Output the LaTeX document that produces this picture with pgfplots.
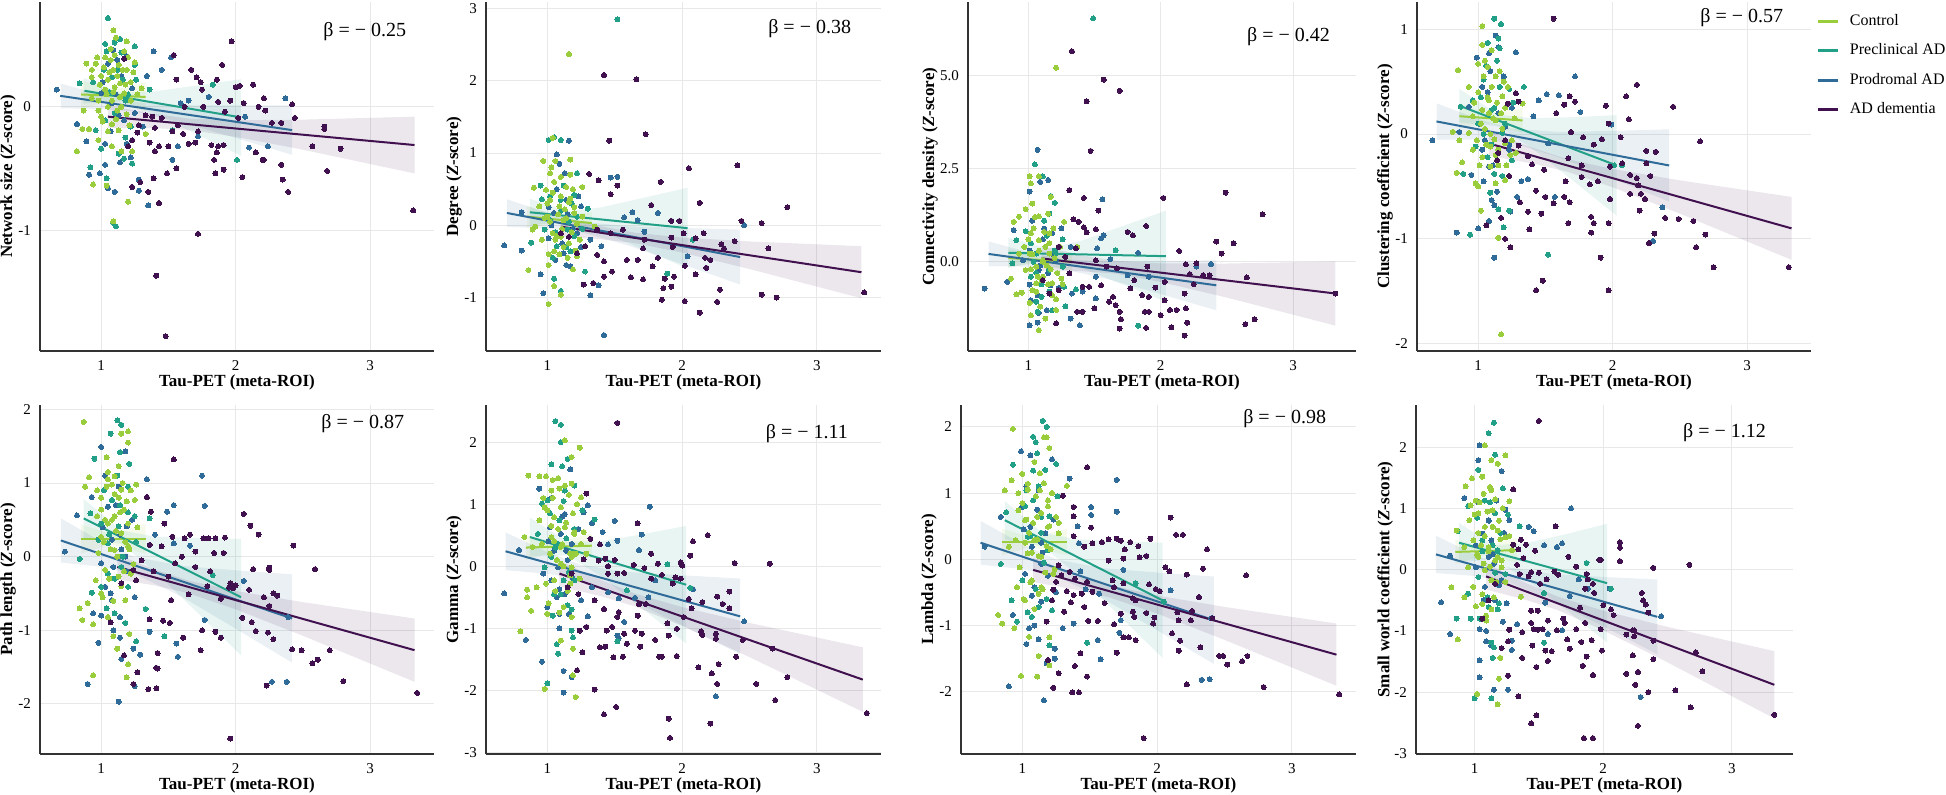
\documentclass[border=0pt]{standalone}
\usepackage{fontspec}
\setmainfont{Liberation Serif}
\usepackage{pgfplots}
\pgfplotsset{compat=1.18}
\definecolor{cCtl}{HTML}{9ACD3B}
\definecolor{cPre}{HTML}{21A087}
\definecolor{cPro}{HTML}{2F6B98}
\definecolor{cAD}{HTML}{40104F}
\pgfplotsset{
  panel/.style={
    scale only axis, height=174.5pt,
    xmin=0.545, xmax=3.475, xtick={1,2,3},
    axis x line*=bottom, axis y line*=left,
    axis line style={-, line width=0.8pt, draw=black!80},
    major tick length=0pt,
    grid=major, major grid style={line width=0.5pt, draw=black!9},
    tick label style={font=\fontsize{7.5}{8}\selectfont},
    xticklabel style={yshift=-1.5pt},
    yticklabel style={xshift=-1pt},
    /pgf/number format/assume math mode=true,
    xlabel={Tau-PET (meta-ROI)},
    every axis x label/.style={at={(axis description cs:0.5,-0.09)}, anchor=center, font=\bfseries\fontsize{8.5}{10}\selectfont},
    every axis y label/.style={at={(axis description cs:-0.081,0.5)}, anchor=center, rotate=90, font=\bfseries\fontsize{8.5}{10}\selectfont},
  },
  dot/.style={only marks, mark=*, mark size=1.25pt, color=#1, mark options={solid, draw=#1, fill=#1, line width=0pt}, forget plot},
  fit/.style={no marks, line width=1pt, draw=#1, forget plot},
  band/.style={draw=none, fill=#1, fill opacity=0.1, forget plot},
}
\newcommand{\bet}[3]{\node[anchor=east, font=\fontsize{10}{12}\selectfont] at (axis description cs:#1,#2) {β = − #3};}
\begin{document}
\begin{tikzpicture}
\useasboundingbox (0,0) rectangle (973pt,397.5pt);
% ---------------- P1 Network size
\begin{axis}[panel, at={(20pt,222pt)}, anchor=south west, width=197pt,
  ymin=-1.98, ymax=0.85, ytick={-1,0}, ylabel={Network size (\textit{Z}-score)}]
\addplot[dot=cPro] coordinates {(0.67,0.14)(0.82,-0.14)(0.89,-0.28)(0.99,-0.54)(1.03,-0.47)(1.05,-0.66)(1.10,-0.69)(1.28,-0.59)(1.28,-0.68)(1.35,-0.80)(1.39,0.45)(1.45,0.30)(1.34,0.25)(1.52,0.40)(1.59,0.03)(1.65,0.05)(1.80,0.08)(1.57,-0.32)(1.53,-0.43)(2.10,-0.33)(2.24,-0.32)(2.37,0.07)(2.07,-0.08)(1.72,-0.24)(1.31,-0.16)(1.22,-0.41)(0.91,-0.55)(0.98,-0.03)(1.05,0.35)(1.12,0.38)(1.19,0.41)(1.00,0.11)(1.08,0.03)(1.13,-0.07)(1.17,-0.11)(1.01,0.20)(1.07,-0.20)(1.11,0.10)(1.15,0.25)(1.19,-0.30)(1.23,0.15)(1.03,-0.30)(1.09,0.46)(1.25,-0.05)(1.14,-0.45)};
\addplot[dot=cPre] coordinates {(1.05,0.72)(1.03,0.51)(1.10,0.52)(1.25,0.49)(1.15,0.44)(0.84,0.19)(0.94,0.20)(1.25,0.34)(1.36,0.14)(1.83,0.18)(2.01,-0.43)(1.53,-0.19)(0.92,-0.49)(1.00,-0.34)(1.09,-0.94)(1.11,-0.97)(1.04,-0.58)(1.13,-0.38)(1.17,-0.42)(1.23,-0.46)(1.08,0.24)(1.18,0.05)(1.03,-0.11)(1.22,-0.16)(0.96,-0.19)(1.02,0.30)(1.06,0.12)(1.12,0.30)(1.16,0.22)(1.20,0.10)(1.10,-0.05)(1.04,0.45)(1.14,0.55)(1.18,-0.25)(1.26,0.22)};
\addplot[dot=cCtl] coordinates {(1.09,0.62)(1.11,0.56)(1.19,0.53)(0.97,0.40)(0.89,0.35)(0.93,0.24)(0.87,-0.03)(0.86,-0.18)(0.91,-0.18)(0.82,-0.36)(0.94,-0.63)(1.04,-0.64)(1.20,-0.77)(1.09,-0.93)(0.98,-0.27)(1.08,-0.32)(1.15,-0.36)(1.23,-0.36)(1.25,0.36)(1.05,0.22)(1.10,0.16)(1.14,0.19)(1.03,0.14)(0.98,0.05)(1.05,0.0)(1.12,-0.03)(1.17,0.11)(1.22,0.05)(0.93,0.07)(1.00,-0.08)(1.13,-0.19)(1.08,-0.14)(1.33,-0.22)(1.30,0.15)(0.96,0.35)(1.09,0.30)(1.19,0.30)(1.07,0.38)(0.98,-0.03)(0.93,0.30)(1.00,0.25)(1.02,0.32)(1.04,0.10)(1.06,0.28)(1.08,0.05)(1.10,0.42)(1.12,0.25)(1.14,0.08)(1.16,0.30)(1.18,0.18)(1.20,0.40)(1.22,0.20)(1.24,0.28)(1.01,-0.12)(1.05,-0.20)(1.11,-0.10)(1.15,0.00)(1.19,-0.06)(1.07,0.47)(1.13,0.34)(1.03,0.40)(1.17,0.45)(1.21,-0.15)(0.99,0.18)(1.09,0.12)(1.27,0.10)};
\addplot[dot=cAD] coordinates {(1.97,0.53)(1.54,0.42)(1.90,0.34)(1.67,0.30)(1.56,0.22)(1.86,0.22)(1.71,0.24)(2.13,0.18)(2.00,0.16)(2.03,0.17)(1.74,0.20)(1.75,0.14)(1.96,0.05)(1.87,0.04)(2.06,0.03)(2.21,0.07)(2.17,0.0)(2.22,-0.03)(2.42,0.02)(2.44,-0.09)(2.34,-0.13)(2.27,-0.13)(2.02,-0.09)(1.92,-0.04)(1.76,0.0)(1.62,0.0)(1.45,-0.09)(1.38,-0.08)(1.36,-0.29)(1.40,-0.36)(1.43,-0.32)(1.50,-0.32)(1.65,-0.30)(1.70,-0.29)(1.82,-0.31)(1.87,-0.32)(1.91,-0.31)(1.86,-0.37)(1.84,-0.43)(1.85,-0.54)(1.91,-0.51)(2.15,-0.37)(2.21,-0.43)(2.20,-0.43)(2.57,-0.32)(2.66,-0.16)(2.66,-0.18)(2.78,-0.34)(2.68,-0.52)(2.34,-0.47)(2.35,-0.59)(2.39,-0.69)(2.05,-0.57)(1.49,-0.54)(1.56,-0.50)(1.39,-0.58)(1.29,-0.61)(1.23,-0.65)(1.35,-0.69)(1.43,-0.78)(1.72,-1.03)(1.41,-1.37)(1.48,-1.86)(3.32,-0.84)(1.23,-0.27)(1.20,-0.32)(1.28,-0.15)(1.33,-0.07)(1.17,0.39)(1.61,-0.22)(1.57,-0.15)(1.72,-0.20)(1.53,-0.20)(1.40,-0.17)(1.27,-0.21)};
\addplot[band=cCtl] coordinates {(0.85,0.22)(1.07,0.133)(1.33,0.20)(1.33,-0.04)(1.07,0.049)(0.85,-0.02)} -- cycle;
\addplot[band=cPre] coordinates {(0.87,0.234)(1.15,0.115)(1.4,0.126)(1.7,0.171)(2.04,0.224)(2.04,-0.396)(1.7,-0.217)(1.4,-0.060)(1.15,0.043)(0.87,0.028)} -- cycle;
\addplot[band=cPro] coordinates {(0.70,0.188)(1.0,0.097)(1.25,0.039)(1.6,0.013)(2.0,0.011)(2.42,0.011)(2.42,-0.389)(2.0,-0.253)(1.6,-0.127)(1.25,-0.039)(1.0,-0.017)(0.70,-0.012)} -- cycle;
\addplot[band=cAD] coordinates {(1.05,0.010)(1.4,-0.058)(1.65,-0.095)(2.0,-0.109)(2.5,-0.104)(3.33,-0.080)(3.33,-0.540)(2.5,-0.348)(2.0,-0.243)(1.65,-0.187)(1.4,-0.173)(1.05,-0.170)} -- cycle;
\addplot[fit=cCtl] coordinates {(0.85,0.10)(1.33,0.08)};
\addplot[fit=cPre] coordinates {(0.876,0.13)(2.04,-0.086)};
\addplot[fit=cPro] coordinates {(0.695,0.089)(2.42,-0.189)};
\addplot[fit=cAD] coordinates {(1.05,-0.08)(3.33,-0.31)};
\bet{0.947}{0.914}{0.25}
\end{axis}
% ---------------- P2 Degree
\begin{axis}[panel, at={(243pt,222pt)}, anchor=south west, width=197.5pt,
  ymin=-1.74, ymax=3.09, ytick={-1,0,1,2,3}, ylabel={Degree (\textit{Z}-score)}]
\addplot[dot=cPro] coordinates {(0.68,-0.28)(0.81,-0.35)(0.81,0.18)(0.97,-0.94)(0.95,-0.68)(1.42,-1.52)(1.32,-0.97)(1.38,-0.83)(1.16,1.17)(1.07,0.98)(1.13,0.72)(1.47,0.66)(1.52,0.67)(1.63,0.18)(1.57,0.11)(1.67,0.07)(1.72,-0.09)(1.82,0.17)(2.04,-0.43)(2.46,0.0)(1.14,0.35)(1.05,0.17)(1.01,-0.18)(1.06,-0.48)(1.12,-0.39)(1.22,-0.11)(1.25,0.26)(1.32,-0.20)(1.17,-0.57)(1.40,-0.29)(1.01,0.25)(1.07,0.50)(1.11,-0.25)(1.15,0.15)(1.19,-0.05)(1.23,0.40)(1.03,0.00)(1.09,0.85)(1.25,-0.30)(1.14,-0.55)};
\addplot[dot=cPre] coordinates {(1.52,2.85)(1.01,1.18)(1.10,1.18)(1.05,1.22)(1.22,0.72)(0.95,0.55)(0.96,0.36)(0.88,-0.24)(1.10,-0.91)(1.05,-0.74)(1.28,-0.64)(1.89,-0.67)(2.08,-0.20)(1.30,0.23)(1.20,0.42)(1.10,0.35)(1.02,0.07)(1.15,-0.06)(1.07,-0.29)(1.17,-0.36)(0.98,-0.06)(1.22,0.12)(1.02,0.40)(1.06,-0.10)(1.12,0.55)(1.16,0.05)(1.20,-0.15)(1.10,0.20)(1.04,-0.45)(1.14,-0.30)(1.18,0.30)(1.26,-0.05)};
\addplot[dot=cCtl] coordinates {(1.16,2.37)(1.04,1.21)(1.06,0.89)(0.97,0.89)(1.17,0.91)(0.90,0.52)(0.89,-0.06)(0.86,-0.62)(1.01,-1.09)(1.10,-0.96)(1.05,-0.84)(1.01,-0.55)(1.19,-0.61)(1.26,0.53)(1.17,0.37)(1.10,0.67)(1.02,0.72)(0.99,0.49)(0.94,0.26)(0.91,-0.02)(0.96,-0.20)(1.04,-0.11)(1.10,-0.16)(1.16,-0.25)(1.22,-0.43)(1.05,-0.36)(1.12,0.07)(1.20,0.17)(1.09,0.26)(1.02,0.35)(1.14,0.53)(1.00,0.12)(1.35,-0.02)(1.00,0.30)(1.02,0.05)(1.04,0.45)(1.06,-0.20)(1.08,0.15)(1.10,0.40)(1.12,-0.30)(1.14,0.10)(1.16,0.32)(1.18,-0.10)(1.20,0.25)(1.22,0.02)(1.24,-0.20)(1.01,-0.40)(1.05,0.60)(1.11,-0.05)(1.15,-0.45)(1.19,0.50)(1.07,-0.15)(1.13,0.22)(1.03,0.80)(1.17,0.70)(1.21,-0.35)(0.98,0.10)(1.09,-0.40)(1.26,0.12)};
\addplot[dot=cAD] coordinates {(3.35,-0.93)(2.70,-1.00)(2.59,-0.96)(2.64,-0.32)(2.59,0.03)(2.78,0.25)(2.41,0.83)(2.44,0.06)(2.39,-0.22)(2.31,-0.32)(2.29,-0.26)(2.28,-0.89)(2.26,-1.06)(2.13,-1.21)(2.13,0.31)(2.05,0.79)(2.02,-1.05)(2.02,-0.56)(2.01,-0.11)(1.98,0.06)(1.92,0.06)(1.92,-0.17)(1.93,-0.30)(1.94,-0.71)(1.92,-0.85)(1.86,-0.87)(1.85,-1.03)(1.87,-0.74)(1.84,0.60)(1.77,0.28)(1.73,1.26)(1.66,2.02)(1.42,2.08)(1.46,1.17)(1.38,0.62)(1.31,0.71)(1.52,0.55)(1.47,0.43)(1.71,-0.32)(1.72,-0.20)(1.71,-0.75)(1.67,-0.48)(1.62,-0.72)(1.59,-0.48)(1.48,-0.64)(1.42,-0.71)(1.42,-0.50)(1.37,-0.41)(1.34,-0.80)(1.27,-0.82)(1.37,-0.06)(1.47,-0.11)(1.56,-0.06)(1.28,-0.29)(1.22,-0.39)(1.16,-0.16)(1.10,-0.11)(1.82,-0.45)(1.78,-0.57)(2.16,-0.11)(2.17,-0.45)(2.10,-0.18)(2.10,-0.68)(2.18,-0.59)(2.21,-0.48)};
\addplot[band=cCtl] coordinates {(0.85,0.27)(1.07,0.132)(1.33,0.18)(1.33,-0.12)(1.07,0.026)(0.85,-0.03)} -- cycle;
\addplot[band=cPre] coordinates {(0.87,0.367)(1.15,0.192)(1.4,0.248)(1.7,0.374)(2.04,0.52)(2.04,-0.60)(1.7,-0.326)(1.4,-0.088)(1.15,0.062)(0.87,-0.007)} -- cycle;
\addplot[band=cPro] coordinates {(0.70,0.36)(1.0,0.172)(1.25,0.049)(1.6,-0.014)(2.0,-0.037)(2.43,-0.06)(2.43,-0.82)(2.0,-0.539)(1.6,-0.280)(1.25,-0.097)(1.0,-0.044)(0.70,-0.02)} -- cycle;
\addplot[band=cAD] coordinates {(1.10,0.12)(1.4,-0.015)(1.65,-0.103)(2.0,-0.170)(2.5,-0.224)(3.33,-0.29)(3.33,-1.01)(2.5,-0.606)(2.0,-0.378)(1.65,-0.247)(1.4,-0.195)(1.10,-0.16)} -- cycle;
\addplot[fit=cCtl] coordinates {(0.85,0.12)(1.33,0.03)};
\addplot[fit=cPre] coordinates {(0.87,0.18)(2.04,-0.04)};
\addplot[fit=cPro] coordinates {(0.70,0.17)(2.43,-0.44)};
\addplot[fit=cAD] coordinates {(1.10,-0.02)(3.33,-0.65)};
\bet{0.942}{0.925}{0.38}
\end{axis}
% ---------------- P3 Connectivity density
\begin{axis}[panel, at={(484pt,222pt)}, anchor=south west, width=194pt,
  ymin=-2.39, ymax=6.96, ytick={0,2.5,5}, yticklabels={0.0,2.5,5.0},
  ylabel={Connectivity density (\textit{Z}-score)},
  every axis y label/.append style={at={(axis description cs:-0.098,0.5)}}]
\addplot[dot=cPro] coordinates {(0.67,-0.72)(0.84,-0.54)(0.89,0.85)(1.01,-1.70)(1.07,-1.63)(1.08,-1.37)(1.02,-1.03)(1.01,-0.61)(1.01,1.88)(1.07,3.00)(1.09,2.14)(1.15,2.19)(1.56,1.67)(1.55,0.63)(1.57,0.71)(1.52,0.36)(1.32,0.40)(1.39,-1.70)(1.32,-1.52)(1.33,-0.85)(1.41,-0.80)(1.51,-0.98)(1.51,-0.40)(1.62,0.07)(1.83,0.24)(1.75,-0.36)(2.27,-0.13)(2.38,-0.06)(1.91,-0.40)(1.17,-0.63)(1.18,0.76)(1.12,0.89)(1.08,-0.22)(0.96,0.04)(1.21,0.04)(1.01,0.30)(1.07,-0.90)(1.11,0.60)(1.15,-0.30)(1.19,0.20)(1.23,-0.70)(1.03,1.10)(1.09,-0.10)(1.25,0.90)(1.14,-1.30)};
\addplot[dot=cPre] coordinates {(1.49,6.52)(1.05,2.61)(1.11,2.29)(1.17,1.76)(1.20,1.58)(1.16,1.29)(0.98,0.82)(0.91,0.58)(0.88,-0.04)(1.06,-1.07)(1.07,-1.34)(1.28,-1.19)(1.27,-0.67)(1.83,-1.71)(1.36,-0.74)(1.16,-0.22)(1.06,0.22)(1.13,0.40)(1.21,0.22)(1.02,-0.40)(1.10,-0.94)(1.26,-0.13)(1.66,0.31)(1.02,0.50)(1.06,-0.30)(1.12,1.10)(1.16,-0.80)(1.20,0.30)(1.10,-0.60)(1.04,0.00)(1.14,0.70)(1.18,-1.30)(1.26,0.60)};
\addplot[dot=cCtl] coordinates {(1.21,5.20)(1.02,2.10)(1.01,2.29)(1.08,2.29)(1.03,1.56)(0.98,1.41)(0.93,1.21)(0.89,1.07)(1.17,1.74)(1.15,1.29)(1.08,1.22)(1.27,1.07)(1.37,0.40)(0.91,-0.87)(0.95,-0.83)(0.87,-0.45)(1.02,-1.43)(1.08,-1.83)(1.13,-1.52)(1.21,-1.29)(1.03,-0.76)(0.98,-0.22)(1.06,-0.13)(1.11,0.04)(1.16,0.22)(1.01,0.22)(0.93,0.22)(1.08,0.58)(1.02,0.76)(1.16,0.76)(1.18,-0.58)(1.11,-0.40)(1.25,-0.45)(1.06,-0.58)(1.00,0.60)(1.02,-0.20)(1.04,0.90)(1.06,-0.80)(1.08,0.30)(1.10,-0.50)(1.12,0.80)(1.14,-0.10)(1.16,0.50)(1.18,-0.90)(1.20,0.10)(1.22,-0.30)(1.24,0.40)(1.01,-1.10)(1.05,1.20)(1.11,0.00)(1.15,-0.60)(1.19,0.90)(1.07,-0.40)(1.13,0.40)(1.03,0.20)(1.17,-0.20)(1.21,-1.00)(0.97,0.40)(1.09,-1.20)(1.26,-0.60)};
\addplot[dot=cAD] coordinates {(1.33,5.64)(1.57,4.88)(1.69,4.58)(1.44,4.30)(1.47,2.97)(1.31,1.92)(1.42,1.71)(1.53,1.37)(1.34,1.14)(1.38,1.07)(1.42,0.92)(1.44,0.79)(1.51,0.87)(1.75,0.80)(1.79,0.71)(1.89,0.96)(2.02,1.71)(2.14,0.29)(2.49,1.85)(2.55,0.49)(2.77,1.27)(2.42,0.54)(2.46,0.22)(2.65,-0.42)(2.64,-1.67)(2.71,-1.54)(3.32,-0.85)(2.19,-0.07)(2.22,-0.33)(2.25,-0.60)(2.18,-0.85)(2.19,-1.25)(2.20,-1.63)(2.18,-1.98)(2.08,-1.76)(2.12,-1.29)(2.07,-1.29)(2.03,-1.03)(2.00,-1.43)(1.91,-1.34)(1.89,-1.77)(1.88,-1.34)(1.91,-0.94)(1.86,-0.89)(1.96,-0.69)(2.03,-0.54)(1.69,-1.34)(1.69,-1.79)(1.70,-1.54)(1.61,-1.07)(1.66,-1.16)(1.64,-0.94)(1.41,-1.34)(1.37,-1.34)(1.21,-1.65)(1.50,-1.25)(1.55,-0.63)(1.46,-0.67)(1.41,-0.67)(1.77,-0.71)(1.80,-0.49)(1.90,-0.13)(2.32,-0.36)(2.37,-0.36)(2.27,-0.04)(1.67,-0.18)(1.59,-0.13)(1.51,0.04)(1.23,0.40)(1.28,0.13)(1.36,0.36)(1.31,-0.31)(1.23,-0.76)(1.16,-0.85)(1.11,-0.49)};
\addplot[band=cCtl] coordinates {(0.85,0.35)(1.07,0.142)(1.33,0.25)(1.33,-0.25)(1.07,-0.034)(0.85,-0.15)} -- cycle;
\addplot[band=cPre] coordinates {(0.85,0.646)(1.15,0.359)(1.4,0.564)(1.7,0.939)(2.04,1.37)(2.04,-1.07)(1.7,-0.587)(1.4,-0.168)(1.15,0.075)(0.85,-0.166)} -- cycle;
\addplot[band=cPro] coordinates {(0.70,0.545)(1.0,0.255)(1.25,0.071)(1.6,0.006)(2.0,0.018)(2.42,0.04)(2.42,-1.30)(2.0,-0.866)(1.6,-0.464)(1.25,-0.187)(1.0,-0.127)(0.70,-0.125)} -- cycle;
\addplot[band=cAD] coordinates {(1.10,0.425)(1.4,0.178)(1.65,0.029)(2.0,-0.042)(2.5,-0.047)(3.32,0.01)(3.32,-1.71)(2.5,-0.959)(2.0,-0.540)(1.65,-0.315)(1.4,-0.252)(1.10,-0.245)} -- cycle;
\addplot[fit=cCtl] coordinates {(0.85,0.10)(1.33,0.0)};
\addplot[fit=cPre] coordinates {(0.85,0.24)(2.04,0.15)};
\addplot[fit=cPro] coordinates {(0.70,0.21)(2.42,-0.63)};
\addplot[fit=cAD] coordinates {(1.10,0.09)(3.32,-0.85)};
\bet{0.951}{0.90}{0.42}
\end{axis}
% ---------------- P4 Clustering coefficient
\begin{axis}[panel, at={(708.5pt,222pt)}, anchor=south west, width=197pt,
  ymin=-2.07, ymax=1.26, ytick={-2,-1,0,1}, ylabel={Clustering coefficient (\textit{Z}-score)},
  legend style={at={(axis description cs:1,1)}, anchor=north west, xshift=2.5pt, yshift=-6pt, draw=none, fill=none, font=\fontsize{8}{10}\selectfont, row sep=7.6pt, inner sep=0pt, nodes={inner sep=0pt}},
  legend cell align=left,
  legend image code/.code={\draw[#1, line width=1.5pt] (0pt,0pt) -- (10pt,0pt); \path[draw=none, fill=none] (0pt,0pt) rectangle (16pt,0.1pt);}]
\addplot[dot=cPro] coordinates {(0.66,-0.06)(0.99,0.73)(1.28,0.78)(1.13,0.94)(0.84,-0.94)(0.95,-0.39)(1.00,-0.90)(1.08,-0.83)(1.12,-1.18)(1.12,-0.68)(1.10,-0.63)(1.24,-0.74)(1.29,-0.60)(1.32,-0.45)(1.37,-0.43)(1.41,0.17)(1.45,0.32)(1.51,0.38)(1.60,0.37)(1.72,0.55)(1.76,0.21)(1.52,-0.09)(1.57,-0.60)(1.99,0.09)(2.37,-0.70)(2.30,-1.02)(1.15,0.83)(1.08,0.77)(1.03,0.45)(1.13,0.55)(0.93,0.26)(0.86,0.02)(1.05,-0.06)(1.20,0.07)(1.23,-0.15)(1.08,-0.31)(1.04,-0.45)(1.01,0.10)(1.07,0.40)(1.11,-0.30)(1.15,0.20)(1.19,0.55)(1.23,-0.10)(1.03,-0.15)(1.09,0.60)(1.25,0.25)(1.14,-0.55)};
\addplot[dot=cPre] coordinates {(1.12,1.10)(1.17,1.05)(1.07,0.87)(1.15,0.91)(1.16,0.82)(1.34,0.45)(1.23,0.43)(0.89,-0.38)(0.94,-0.96)(1.09,-0.56)(1.15,-0.72)(1.23,-0.73)(1.19,-0.89)(1.52,-1.15)(2.07,-0.30)(2.01,-0.30)(1.04,0.52)(0.96,0.32)(1.00,0.10)(1.10,0.23)(1.18,0.01)(1.07,-0.22)(1.12,-0.38)(1.25,-0.25)(0.98,-0.12)(0.87,0.26)(1.02,0.35)(1.06,0.65)(1.12,0.25)(1.16,0.45)(1.20,0.10)(1.10,-0.10)(1.04,0.00)(1.14,0.70)(1.18,-0.40)(1.26,0.30)};
\addplot[dot=cCtl] coordinates {(1.03,1.03)(0.85,0.61)(0.88,-0.27)(0.84,-0.37)(1.02,-0.73)(1.15,-0.99)(1.17,-1.91)(0.93,0.45)(1.00,0.67)(1.10,0.80)(1.07,0.64)(1.13,0.55)(1.18,0.36)(1.08,0.32)(1.03,0.23)(0.96,0.17)(1.13,0.13)(1.05,0.05)(0.93,0.01)(0.99,-0.06)(1.09,-0.12)(1.15,-0.15)(1.03,-0.22)(0.96,-0.15)(1.20,-0.09)(1.09,-0.31)(0.98,-0.47)(1.13,-0.47)(1.00,-0.50)(1.28,-0.18)(1.20,-0.44)(0.86,-0.06)(0.81,0.02)(1.25,-0.06)(1.33,0.29)(1.00,0.40)(1.02,0.10)(1.04,0.55)(1.06,-0.10)(1.08,0.20)(1.10,0.45)(1.12,-0.05)(1.14,0.30)(1.16,0.60)(1.18,0.05)(1.20,0.25)(1.22,0.45)(1.24,-0.20)(1.01,-0.30)(1.05,0.70)(1.11,0.15)(1.15,-0.30)(1.19,0.50)(1.07,0.35)(1.13,-0.20)(1.03,0.85)(1.17,0.20)(1.21,-0.30)(0.97,0.30)(1.09,0.00)(1.27,0.15)};
\addplot[dot=cAD] coordinates {(1.56,1.10)(2.18,0.47)(2.10,0.36)(2.12,0.14)(2.45,0.26)(2.65,-0.07)(1.95,0.27)(1.97,0.10)(2.06,-0.03)(1.92,-0.05)(1.86,-0.10)(1.78,-0.03)(1.69,0.02)(1.72,0.31)(1.68,0.36)(1.64,0.28)(1.58,0.20)(2.25,-0.16)(2.32,-0.17)(2.28,-0.40)(2.25,-0.28)(2.18,-0.42)(2.13,-0.39)(2.19,-0.49)(2.21,-0.57)(2.24,-0.62)(2.13,-0.57)(2.07,-0.28)(1.98,-0.31)(1.98,-0.62)(1.89,-0.45)(1.83,-0.48)(1.77,-0.41)(1.77,-0.30)(1.67,-0.23)(1.65,-0.45)(1.68,-0.65)(1.64,-0.60)(1.56,-0.66)(1.50,-0.60)(1.47,-0.76)(1.43,-0.54)(1.40,-0.29)(1.49,-0.34)(1.37,-0.21)(1.30,-0.11)(1.37,-0.74)(1.31,-0.65)(1.38,-0.91)(1.23,-0.40)(1.17,-0.80)(1.20,-1.00)(1.24,-1.08)(1.06,-0.87)(1.43,-1.49)(1.48,-1.40)(1.91,-1.18)(1.97,-1.49)(1.67,-0.85)(1.84,-0.79)(1.86,-0.85)(1.84,-0.94)(1.97,-0.85)(2.20,-0.73)(2.39,-0.80)(2.49,-0.81)(2.60,-0.83)(2.31,-0.95)(2.27,-1.04)(2.62,-1.08)(2.69,-0.96)(2.75,-1.27)(3.31,-1.27)(1.28,0.39)(1.30,0.31)(1.22,0.29)(1.15,-0.18)(1.14,-0.25)(1.20,-0.06)};
\addplot[band=cCtl] coordinates {(0.86,0.29)(1.07,0.194)(1.33,0.25)(1.33,0.01)(1.07,0.110)(0.86,0.05)} -- cycle;
\addplot[band=cPre] coordinates {(0.86,0.43)(1.15,0.185)(1.4,0.151)(1.7,0.161)(2.03,0.18)(2.03,-0.78)(1.7,-0.439)(1.4,-0.137)(1.15,0.073)(0.86,0.11)} -- cycle;
\addplot[band=cPro] coordinates {(0.69,0.293)(1.0,0.143)(1.25,0.051)(1.6,0.020)(2.0,0.030)(2.42,0.045)(2.42,-0.645)(2.0,-0.426)(1.6,-0.222)(1.25,-0.083)(1.0,-0.053)(0.69,-0.053)} -- cycle;
\addplot[band=cAD] coordinates {(1.08,0.027)(1.4,-0.130)(1.65,-0.235)(2.0,-0.334)(2.5,-0.442)(3.33,-0.60)(3.33,-1.20)(2.5,-0.760)(2.0,-0.508)(1.65,-0.355)(1.4,-0.280)(1.08,-0.207)} -- cycle;
\addplot[fit=cCtl] coordinates {(0.86,0.17)(1.33,0.13)};
\addplot[fit=cPre] coordinates {(0.86,0.27)(2.03,-0.30)};
\addplot[fit=cPro] coordinates {(0.69,0.12)(2.42,-0.30)};
\addplot[fit=cAD] coordinates {(1.08,-0.09)(3.33,-0.90)};
\addlegendimage{color=cCtl}\addlegendentry{Control}
\addlegendimage{color=cPre}\addlegendentry{Preclinical AD}
\addlegendimage{color=cPro}\addlegendentry{Prodromal AD}
\addlegendimage{color=cAD}\addlegendentry{AD dementia}
\bet{0.947}{0.954}{0.57}
\end{axis}
% ---------------- P5 Path length
\begin{axis}[panel, at={(20pt,20.5pt)}, anchor=south west, width=197pt,
  ymin=-2.68, ymax=2.06, ytick={-2,-1,0,1,2}, ylabel={Path length (\textit{Z}-score)}]
\addplot[dot=cPro] coordinates {(0.73,0.07)(0.82,0.56)(0.93,0.81)(1.00,1.49)(1.18,1.43)(1.34,1.05)(1.49,0.61)(1.54,0.70)(1.75,1.10)(1.77,0.69)(1.40,0.30)(1.54,0.18)(1.66,0.15)(2.06,-0.33)(1.77,-0.86)(1.56,-1.18)(1.57,-1.36)(1.36,-1.02)(1.24,-1.25)(1.29,-1.33)(1.25,-1.76)(1.15,-1.39)(1.14,-1.10)(1.13,-1.97)(0.90,-1.73)(0.94,-0.77)(1.00,-0.80)(0.98,-1.17)(2.27,-1.70)(2.38,-1.70)(2.39,-0.82)(1.03,-0.41)(1.09,-0.14)(1.18,0.0)(1.08,0.23)(1.05,0.68)(1.13,0.95)(1.19,0.41)(1.00,-0.09)(1.08,-0.59)(1.14,-0.82)(1.01,0.40)(1.07,-0.50)(1.11,0.70)(1.15,0.10)(1.19,-0.20)(1.23,0.50)(1.03,1.10)(1.09,-1.00)(1.25,-0.55)(1.14,0.30)};
\addplot[dot=cPre] coordinates {(1.12,1.85)(1.07,1.67)(1.15,1.79)(1.14,1.42)(1.21,1.26)(0.95,1.33)(0.92,0.59)(0.84,-0.03)(0.93,-0.49)(1.33,-0.71)(1.47,-1.08)(1.26,-1.15)(1.36,0.52)(1.20,0.95)(1.08,0.77)(1.00,0.45)(1.13,0.41)(1.05,0.18)(0.98,0.23)(1.15,-0.14)(1.05,-0.23)(1.20,-0.41)(1.10,-0.77)(1.00,-0.41)(1.83,-0.25)(1.25,0.55)(1.02,0.90)(1.06,0.30)(1.12,1.10)(1.16,0.00)(1.20,0.60)(1.10,-0.30)(1.04,-0.70)(1.14,0.70)(1.18,-0.90)(1.26,0.20)};
\addplot[dot=cCtl] coordinates {(0.87,1.83)(1.20,1.70)(1.15,1.67)(1.20,1.55)(0.91,1.08)(0.88,0.95)(1.04,1.35)(0.84,-0.70)(0.86,-0.86)(0.90,-0.63)(0.94,-0.92)(0.94,-1.61)(1.19,-1.64)(1.20,-1.46)(1.12,-1.25)(1.21,-1.05)(1.09,-1.08)(1.08,0.98)(1.15,0.91)(1.10,1.09)(1.05,1.05)(1.13,1.23)(1.00,0.64)(0.97,0.55)(1.05,0.45)(1.10,0.55)(1.17,0.64)(1.25,0.77)(1.15,0.32)(1.00,0.27)(0.98,0.05)(1.10,0.09)(1.20,0.14)(1.03,-0.18)(1.13,-0.27)(1.00,-0.50)(1.18,-0.59)(1.05,-0.82)(0.96,-0.32)(1.22,-0.23)(1.26,0.98)(1.00,0.80)(1.02,0.20)(1.04,0.95)(1.06,-0.30)(1.08,0.50)(1.10,0.85)(1.12,0.00)(1.14,0.60)(1.16,1.00)(1.18,0.20)(1.20,0.45)(1.22,0.90)(1.24,-0.10)(1.01,-0.55)(1.05,1.15)(1.11,0.35)(1.15,-0.40)(1.19,0.75)(1.07,0.10)(1.13,0.80)(1.03,0.50)(1.17,-0.20)(1.21,0.10)(0.97,0.90)(1.09,-0.60)(1.27,0.40)};
\addplot[dot=cAD] coordinates {(1.54,1.32)(2.06,0.58)(2.11,0.42)(2.17,0.30)(2.43,0.15)(2.59,-0.17)(2.25,-0.15)(2.25,-0.18)(2.13,-0.17)(2.10,-0.45)(1.95,-0.42)(1.98,-0.43)(1.91,0.05)(1.84,0.05)(1.92,0.26)(1.85,0.25)(1.76,0.25)(1.80,0.25)(1.66,0.30)(1.62,0.25)(1.70,0.07)(1.81,-0.20)(1.79,-0.40)(1.89,-0.57)(1.96,-0.36)(2.0,-0.39)(2.28,-0.50)(2.31,-0.53)(2.21,-0.55)(2.25,-0.67)(2.12,-0.89)(2.15,-1.01)(2.05,-0.83)(2.24,-1.03)(2.28,-1.12)(1.85,-1.02)(1.89,-1.10)(1.75,-1.0)(1.74,-1.27)(1.61,-1.10)(1.65,-0.51)(1.52,-0.59)(1.51,-0.90)(1.46,-0.87)(1.36,-0.85)(1.42,-1.31)(1.41,-1.51)(1.42,-1.52)(1.35,-1.80)(1.41,-1.79)(1.27,-1.57)(1.24,-1.73)(1.17,-1.34)(1.34,0.81)(1.37,0.61)(1.47,0.45)(1.53,0.27)(1.45,0.14)(1.30,-0.05)(1.39,-0.20)(1.50,-0.27)(1.24,-0.18)(1.26,-0.32)(1.15,-0.36)(1.07,-0.89)(2.42,-1.26)(2.49,-1.27)(2.70,-1.27)(2.57,-1.45)(2.61,-1.40)(2.80,-1.69)(3.35,-1.85)(1.96,-2.47)(2.23,-1.75)(1.36,0.16)(1.60,0.0)(1.55,-0.09)(1.70,-0.14)};
\addplot[band=cCtl] coordinates {(0.85,0.44)(1.07,0.31)(1.33,0.44)(1.33,0.04)(1.07,0.17)(0.85,0.04)} -- cycle;
\addplot[band=cPre] coordinates {(0.87,0.783)(1.15,0.356)(1.4,0.272)(1.7,0.255)(2.04,0.24)(2.04,-1.34)(1.7,-0.733)(1.4,-0.202)(1.15,0.172)(0.87,0.257)} -- cycle;
\addplot[band=cPro] coordinates {(0.70,0.52)(1.0,0.206)(1.25,-0.003)(1.6,-0.125)(2.0,-0.185)(2.42,-0.24)(2.42,-1.44)(2.0,-0.977)(1.6,-0.545)(1.25,-0.235)(1.0,-0.136)(0.70,-0.08)} -- cycle;
\addplot[band=cAD] coordinates {(1.12,0.028)(1.4,-0.176)(1.65,-0.325)(2.0,-0.465)(2.5,-0.618)(3.33,-0.84)(3.33,-1.70)(2.5,-1.074)(2.0,-0.715)(1.65,-0.497)(1.4,-0.391)(1.12,-0.308)} -- cycle;
\addplot[fit=cCtl] coordinates {(0.85,0.24)(1.33,0.24)};
\addplot[fit=cPre] coordinates {(0.87,0.52)(2.04,-0.55)};
\addplot[fit=cPro] coordinates {(0.70,0.22)(2.42,-0.84)};
\addplot[fit=cAD] coordinates {(1.12,-0.14)(3.33,-1.27)};
\bet{0.942}{0.948}{0.87}
\end{axis}
% ---------------- P6 Gamma
\begin{axis}[panel, at={(243pt,20.5pt)}, anchor=south west, width=197.5pt,
  ymin=-3.03, ymax=2.60, ytick={-3,-2,-1,0,1,2}, ylabel={Gamma (\textit{Z}-score)}]
\addplot[dot=cPro] coordinates {(0.68,-0.44)(0.79,0.26)(0.84,-1.19)(0.94,1.25)(0.96,-1.54)(1.09,-0.37)(1.09,-0.77)(1.16,-0.77)(1.12,-1.69)(1.12,-2.04)(1.18,-1.79)(1.17,1.56)(1.30,0.98)(1.27,0.87)(1.33,0.69)(1.41,0.55)(1.50,0.73)(1.45,0.35)(1.52,0.41)(1.68,0.26)(1.70,0.51)(1.76,0.96)(1.65,-0.51)(1.53,-0.52)(1.45,-0.42)(1.52,-1.12)(1.53,-1.16)(1.57,-0.90)(1.80,-0.23)(1.75,-0.50)(2.08,-0.37)(2.46,-0.89)(2.25,-2.10)(1.30,-0.81)(1.33,-0.34)(1.03,-0.23)(1.05,0.25)(1.02,0.63)(1.10,0.52)(1.18,0.36)(1.13,0.84)(1.08,-0.02)(0.97,-0.12)(1.00,-0.66)(1.13,-0.45)(1.01,0.40)(1.07,-0.50)(1.11,0.80)(1.15,0.10)(1.19,-0.20)(1.23,0.60)(1.03,1.10)(1.09,-1.00)(1.25,-0.55)(1.14,0.25)};
\addplot[dot=cPre] coordinates {(1.06,2.34)(1.10,2.28)(1.10,2.0)(1.03,1.64)(1.11,1.61)(1.15,1.73)(0.96,1.01)(1.35,0.75)(1.89,0.03)(2.06,-0.35)(1.59,-0.39)(1.52,-1.21)(1.00,-1.89)(1.07,-1.26)(1.08,-1.41)(1.18,-1.04)(1.19,-1.15)(1.15,-0.63)(1.03,0.15)(1.09,0.74)(1.00,1.06)(1.13,1.22)(1.20,1.30)(0.93,0.52)(1.08,0.36)(0.98,-0.02)(1.12,-0.23)(1.20,-0.23)(1.05,-0.45)(1.02,0.85)(1.06,0.30)(1.12,1.05)(1.16,-0.10)(1.20,0.60)(1.10,-0.45)(1.04,-0.80)(1.14,0.45)(1.18,-0.70)(1.26,0.90)};
\addplot[dot=cCtl] coordinates {(1.13,2.03)(1.24,1.91)(1.18,1.76)(0.86,1.46)(0.94,1.45)(0.99,1.45)(1.04,1.39)(1.08,1.42)(1.03,1.22)(1.09,1.25)(1.18,1.33)(1.25,1.11)(0.85,-0.38)(0.85,-0.50)(0.88,-0.72)(0.80,-1.05)(0.98,-1.98)(1.21,-2.11)(1.19,-1.76)(1.19,-1.33)(1.10,-1.20)(1.00,-0.77)(1.12,-0.66)(1.18,-0.82)(1.05,-0.23)(0.99,-0.28)(0.92,-0.34)(0.96,0.36)(1.03,0.47)(1.10,0.31)(1.17,0.20)(1.20,0.52)(1.05,0.79)(0.98,0.95)(0.94,0.74)(0.89,0.31)(0.83,0.47)(1.10,0.04)(1.18,-0.02)(1.25,0.36)(1.29,0.20)(1.13,0.63)(1.17,-0.28)(1.00,0.90)(1.02,0.20)(1.04,1.10)(1.06,-0.40)(1.08,0.60)(1.10,0.95)(1.12,0.00)(1.14,0.70)(1.16,1.15)(1.18,0.15)(1.20,0.55)(1.22,1.00)(1.24,-0.20)(1.01,-0.60)(1.05,0.40)(1.11,0.35)(1.15,-0.40)(1.19,0.85)(1.07,0.10)(1.13,1.30)(1.03,0.65)(1.17,-0.15)(1.21,0.20)(0.97,1.10)(1.09,-0.75)(1.27,0.55)};
\addplot[dot=cAD] coordinates {(1.52,2.31)(1.29,1.17)(1.67,0.69)(2.19,0.50)(2.08,0.40)(2.06,0.17)(2.39,0.05)(2.65,0.04)(1.99,0.06)(2.00,0.01)(1.95,-0.18)(1.99,-0.20)(1.93,-0.28)(1.85,-0.14)(1.82,0.04)(1.77,-0.20)(1.72,-0.03)(1.64,0.02)(1.77,0.20)(1.57,-0.11)(1.52,-0.12)(1.50,0.10)(1.45,-0.12)(1.45,0.0)(1.43,0.12)(1.38,0.09)(1.27,0.11)(1.39,0.35)(1.32,0.44)(2.05,-0.53)(2.07,-0.68)(2.15,-0.58)(2.26,-0.49)(2.30,-0.61)(2.35,-0.41)(2.35,-0.68)(2.01,-0.82)(1.89,-0.92)(1.96,-1.01)(2.14,-1.05)(2.15,-1.11)(2.25,-1.09)(2.25,-1.17)(2.45,-1.19)(2.67,-1.33)(2.27,-1.58)(2.40,-1.46)(2.22,-1.73)(2.26,-1.90)(2.12,-1.63)(1.96,-1.45)(1.90,-1.12)(1.85,-1.46)(1.83,-1.46)(1.80,-1.19)(1.70,-1.09)(1.69,-1.30)(1.65,-1.04)(1.67,-0.80)(1.68,-0.61)(1.73,-0.61)(1.57,-1.09)(1.59,-1.25)(1.53,-0.74)(1.52,-0.82)(1.48,-0.98)(1.49,-1.47)(1.56,-1.46)(1.44,-1.04)(1.39,-1.31)(1.43,-1.30)(1.42,-0.69)(1.35,-0.55)(1.29,-0.98)(1.24,-1.04)(1.26,-1.39)(1.22,-1.68)(1.35,-1.99)(1.42,-2.39)(1.51,-2.27)(1.90,-2.46)(1.91,-2.77)(2.21,-2.54)(2.55,-1.90)(2.69,-2.16)(2.78,-1.79)(3.37,-2.37)(1.18,-0.12)(1.15,-0.34)(1.23,-0.45)};
\addplot[band=cCtl] coordinates {(0.84,0.50)(1.07,0.384)(1.33,0.53)(1.33,0.13)(1.07,0.244)(0.84,0.10)} -- cycle;
\addplot[band=cPre] coordinates {(0.87,0.786)(1.15,0.394)(1.4,0.403)(1.7,0.513)(2.03,0.65)(2.03,-1.25)(1.7,-0.675)(1.4,-0.167)(1.15,0.174)(0.87,0.154)} -- cycle;
\addplot[band=cPro] coordinates {(0.69,0.545)(1.0,0.227)(1.25,0.020)(1.6,-0.095)(2.0,-0.147)(2.43,-0.20)(2.43,-1.42)(2.0,-0.953)(1.6,-0.523)(1.25,-0.216)(1.0,-0.121)(0.69,-0.065)} -- cycle;
\addplot[band=cAD] coordinates {(1.09,0.083)(1.4,-0.226)(1.65,-0.442)(2.0,-0.661)(2.5,-0.916)(3.34,-1.31)(3.34,-2.35)(2.5,-1.468)(2.0,-0.963)(1.65,-0.650)(1.4,-0.486)(1.09,-0.323)} -- cycle;
\addplot[fit=cCtl] coordinates {(0.84,0.30)(1.33,0.33)};
\addplot[fit=cPre] coordinates {(0.87,0.47)(2.03,-0.30)};
\addplot[fit=cPro] coordinates {(0.69,0.24)(2.43,-0.81)};
\addplot[fit=cAD] coordinates {(1.09,-0.12)(3.34,-1.83)};
\bet{0.934}{0.917}{1.11}
\end{axis}
% ---------------- P7 Lambda
\begin{axis}[panel, at={(480.5pt,20.5pt)}, anchor=south west, width=197.5pt,
  ymin=-2.94, ymax=2.33, ytick={-2,-1,0,1,2}, ylabel={Lambda (\textit{Z}-score)}]
\addplot[dot=cPro] coordinates {(0.72,0.19)(0.84,0.64)(0.90,-1.92)(0.99,1.63)(1.06,1.57)(1.22,1.51)(1.35,1.22)(1.41,0.50)(1.51,0.79)(1.51,0.67)(1.70,0.72)(1.70,1.20)(1.42,0.24)(1.43,-0.18)(1.47,-0.45)(1.57,-0.52)(1.58,-1.51)(1.56,-1.22)(1.72,-1.11)(1.75,-0.16)(1.73,-0.92)(1.38,-0.97)(1.30,-1.04)(1.24,-1.35)(1.24,-1.50)(1.16,-2.13)(1.18,-1.57)(1.12,-1.21)(1.03,-1.28)(1.05,-1.04)(0.93,-0.84)(1.14,-0.64)(2.10,-0.47)(2.33,-1.82)(2.39,-1.81)(2.40,-0.89)(1.07,0.19)(1.02,-0.22)(1.09,-0.42)(1.14,-0.07)(1.00,0.79)(1.12,1.04)(1.17,0.39)(1.06,0.49)(1.01,0.45)(1.07,-0.55)(1.11,0.75)(1.15,0.10)(1.19,-0.25)(1.23,0.60)(1.03,1.10)(1.09,-1.00)(1.25,-0.50)(1.14,0.25)};
\addplot[dot=cPre] coordinates {(1.15,2.09)(1.18,2.0)(1.08,1.85)(1.10,1.77)(1.11,1.60)(0.93,1.43)(1.25,1.44)(1.17,1.35)(1.08,1.34)(0.88,0.71)(0.84,-0.07)(0.92,-0.62)(0.96,-0.94)(1.20,-1.30)(1.48,-1.26)(1.84,-0.36)(2.05,-0.64)(1.03,1.04)(1.08,0.89)(1.14,0.64)(1.04,0.34)(1.19,0.14)(1.00,-0.32)(1.12,-0.72)(1.22,-0.77)(1.07,-0.87)(1.02,0.80)(1.06,0.35)(1.12,1.10)(1.16,-0.05)(1.20,0.65)(1.10,-0.45)(1.04,-0.80)(1.14,0.40)(1.18,-0.60)(1.26,0.95)};
\addplot[dot=cCtl] coordinates {(0.93,1.97)(1.16,1.84)(1.18,1.84)(1.20,1.68)(0.87,1.04)(0.92,1.19)(0.82,-0.84)(0.85,-0.97)(0.94,-1.04)(0.99,-1.76)(1.11,-1.77)(1.12,-1.46)(1.20,-1.18)(1.05,-1.17)(1.20,-1.60)(1.33,1.11)(1.09,1.47)(1.00,1.29)(1.04,1.14)(1.13,1.04)(1.19,0.89)(0.97,0.74)(1.02,0.59)(1.11,0.64)(1.27,0.39)(0.95,0.29)(0.90,0.19)(1.04,0.09)(1.14,0.04)(0.98,-0.12)(1.07,-0.32)(0.96,-0.42)(1.14,-0.42)(1.02,-0.62)(1.12,-0.52)(1.23,-0.22)(1.19,0.49)(1.25,0.64)(1.09,0.29)(1.00,0.85)(1.02,0.25)(1.04,1.05)(1.06,-0.35)(1.08,0.55)(1.10,0.95)(1.12,0.05)(1.14,0.70)(1.16,1.15)(1.18,0.20)(1.20,0.50)(1.22,1.00)(1.24,-0.15)(1.01,-0.60)(1.05,0.40)(1.11,0.30)(1.15,-0.45)(1.19,0.80)(1.07,0.10)(1.13,1.30)(1.03,0.60)(1.17,-0.20)(1.21,0.15)(0.97,1.00)(1.09,-0.75)(1.27,0.55)};
\addplot[dot=cAD] coordinates {(1.48,1.39)(1.30,0.96)(1.38,0.79)(1.38,0.65)(1.51,0.48)(2.10,0.63)(2.14,0.37)(2.19,0.37)(1.95,0.31)(1.86,0.20)(1.87,0.03)(1.92,0.05)(1.80,0.26)(1.70,0.31)(1.73,0.28)(1.76,0.15)(1.75,0.01)(1.64,0.30)(1.64,-0.02)(1.59,0.26)(1.52,0.24)(1.46,0.19)(1.38,0.35)(2.37,0.15)(2.66,-0.24)(2.34,-0.14)(2.22,-0.23)(2.06,-0.12)(2.09,-0.18)(1.99,-0.45)(2.02,-0.48)(1.94,-0.38)(1.82,-0.59)(1.84,-0.62)(1.75,-0.36)(1.67,-0.32)(1.68,-0.42)(1.61,-0.66)(1.52,-0.49)(1.48,-0.34)(1.44,-0.52)(1.39,-0.29)(1.35,-0.19)(1.29,-0.24)(1.33,-0.48)(1.38,-0.54)(1.36,-0.65)(1.31,-0.79)(1.22,-0.62)(1.23,-0.46)(1.27,-0.09)(1.25,-0.34)(1.18,-0.94)(1.73,-0.82)(1.82,-0.79)(1.83,-0.87)(1.92,-0.81)(1.97,-0.97)(1.98,-0.88)(1.56,-0.93)(1.49,-0.93)(1.68,-0.98)(1.75,-1.18)(1.79,-1.18)(1.84,-1.22)(1.70,-1.41)(2.15,-0.80)(2.16,-0.92)(2.11,-1.12)(2.17,-1.23)(2.16,-1.38)(2.26,-0.78)(2.25,-0.92)(2.31,-0.57)(2.32,-1.33)(2.41,-0.89)(2.46,-1.46)(2.49,-1.46)(2.52,-1.59)(2.63,-1.54)(2.67,-1.46)(2.22,-1.89)(2.79,-1.93)(3.35,-2.04)(1.90,-2.70)(1.37,-2.01)(1.42,-2.01)(1.39,-1.61)(1.48,-1.77)(1.27,-1.72)(1.23,-1.94)(1.43,-1.42)(1.19,-1.52)(1.46,-0.72)};
\addplot[band=cCtl] coordinates {(0.85,0.46)(1.07,0.33)(1.33,0.46)(1.33,0.06)(1.07,0.19)(0.85,0.06)} -- cycle;
\addplot[band=cPre] coordinates {(0.87,0.88)(1.15,0.401)(1.4,0.303)(1.7,0.276)(2.04,0.25)(2.04,-1.49)(1.7,-0.812)(1.4,-0.219)(1.15,0.199)(0.87,0.30)} -- cycle;
\addplot[band=cPro] coordinates {(0.69,0.58)(1.0,0.228)(1.25,-0.002)(1.6,-0.134)(2.0,-0.200)(2.42,-0.26)(2.42,-1.58)(2.0,-1.072)(1.6,-0.596)(1.25,-0.256)(1.0,-0.148)(0.69,-0.08)} -- cycle;
\addplot[band=cAD] coordinates {(1.08,0.023)(1.4,-0.225)(1.65,-0.390)(2.0,-0.547)(2.5,-0.719)(3.33,-0.97)(3.33,-1.91)(2.5,-1.217)(2.0,-0.819)(1.65,-0.578)(1.4,-0.460)(1.08,-0.343)} -- cycle;
\addplot[fit=cCtl] coordinates {(0.85,0.26)(1.33,0.26)};
\addplot[fit=cPre] coordinates {(0.87,0.59)(2.04,-0.62)};
\addplot[fit=cPro] coordinates {(0.69,0.25)(2.42,-0.92)};
\addplot[fit=cAD] coordinates {(1.08,-0.16)(3.33,-1.44)};
\bet{0.942}{0.96}{0.98}
\end{axis}
% ---------------- P8 Small world coefficient
\begin{axis}[panel, at={(708pt,20.5pt)}, anchor=south west, width=188.5pt,
  ymin=-3.01, ymax=2.69, ytick={-3,-2,-1,0,1,2}, ylabel={Small world coefficient (\textit{Z}-score)},
  every axis y label/.append style={at={(axis description cs:-0.082,0.5)}}]
\addplot[dot=cPro] coordinates {(0.74,-0.53)(0.81,-1.05)(0.81,0.23)(0.92,1.17)(1.03,1.79)(1.04,2.03)(1.21,1.61)(1.24,0.98)(1.27,0.81)(1.42,0.70)(1.46,0.63)(1.54,0.40)(1.64,0.37)(1.68,0.43)(1.75,1.0)(1.68,-0.99)(1.57,-1.05)(1.55,-0.54)(1.74,-0.43)(1.81,-0.16)(1.88,-0.31)(2.05,-0.31)(2.45,-0.76)(2.29,-2.08)(1.26,-1.96)(1.15,-1.96)(1.04,-1.48)(1.04,-1.76)(1.04,-0.97)(1.09,-1.17)(1.13,-1.24)(1.22,-0.85)(1.29,-1.16)(1.29,-1.31)(1.33,-0.89)(1.08,-0.28)(1.11,0.21)(1.06,0.59)(1.13,0.48)(1.17,1.13)(1.11,0.81)(1.01,0.04)(1.21,-0.17)(1.16,-0.50)(1.01,0.40)(1.07,-0.50)(1.11,0.80)(1.15,0.10)(1.19,-0.25)(1.23,0.60)(1.03,1.10)(1.09,-1.00)(1.25,-0.55)(1.14,0.25)};
\addplot[dot=cPre] coordinates {(1.15,2.40)(1.11,2.23)(1.16,1.88)(1.03,1.63)(1.22,1.33)(0.95,1.04)(0.87,0.63)(0.86,-0.80)(0.97,-0.80)(1.0,-2.10)(1.13,-2.10)(1.14,-1.44)(1.15,-1.27)(1.13,-1.19)(1.19,-0.55)(1.54,-0.38)(1.54,-1.19)(1.87,0.11)(2.06,-0.31)(1.35,0.71)(1.08,1.13)(1.16,0.92)(1.06,0.48)(1.18,0.32)(1.03,-0.12)(1.11,-0.61)(1.24,-0.07)(0.95,-0.39)(1.02,0.85)(1.06,0.30)(1.12,1.10)(1.16,-0.05)(1.20,0.60)(1.10,-0.45)(1.04,-0.80)(1.14,0.40)(1.18,-0.65)(1.26,0.90)};
\addplot[dot=cCtl] coordinates {(1.08,2.03)(1.24,1.87)(1.13,1.79)(1.18,1.73)(0.98,1.49)(0.93,1.36)(0.86,0.64)(0.82,-0.29)(0.87,-1.14)(1.02,-2.03)(1.18,-2.20)(1.19,-1.78)(1.20,-1.44)(1.13,-0.65)(1.36,-0.44)(1.27,1.12)(1.06,1.52)(1.07,1.24)(1.12,1.35)(1.01,1.13)(1.03,0.92)(1.14,0.97)(0.96,0.81)(1.08,0.70)(1.18,0.64)(0.99,0.48)(0.92,0.37)(1.11,0.37)(1.24,0.53)(1.03,0.21)(1.16,0.15)(0.95,0.04)(1.08,-0.01)(1.21,0.04)(0.99,-0.28)(1.13,-0.17)(0.92,-0.45)(1.06,-0.56)(1.09,-0.83)(1.29,0.32)(1.00,0.90)(1.02,0.25)(1.04,1.10)(1.06,-0.40)(1.08,0.55)(1.10,0.95)(1.12,0.05)(1.14,0.70)(1.16,1.15)(1.18,0.20)(1.20,0.50)(1.22,1.00)(1.24,-0.20)(1.01,-0.60)(1.05,0.40)(1.11,0.30)(1.15,-0.45)(1.19,0.80)(1.07,0.10)(1.13,1.30)(1.03,0.60)(1.17,-0.20)(1.21,0.15)(0.97,1.05)(1.09,-0.75)(1.27,0.55)};
\addplot[dot=cAD] coordinates {(1.50,2.43)(1.30,1.31)(1.63,0.71)(2.13,0.45)(2.13,0.36)(2.13,0.14)(2.39,0.03)(2.67,0.08)(1.97,0.16)(1.98,0.16)(1.73,0.21)(1.79,0.05)(1.87,-0.07)(1.88,-0.16)(1.92,-0.23)(1.86,-0.31)(1.93,-0.38)(1.65,-0.08)(1.62,-0.03)(1.56,-0.16)(1.50,-0.05)(1.51,-0.23)(1.47,0.31)(1.40,0.41)(1.36,0.49)(1.34,0.33)(1.38,0.19)(1.33,0.08)(1.35,-0.07)(1.42,-0.11)(1.44,-0.04)(1.30,0.41)(2.0,-0.58)(2.06,-0.65)(2.08,-0.74)(2.30,-0.38)(2.31,-0.50)(2.33,-0.57)(2.35,-0.70)(2.23,-0.99)(2.24,-0.99)(2.18,-1.06)(2.24,-1.09)(2.39,-1.16)(1.98,-0.97)(1.99,-1.32)(1.91,-1.15)(1.83,-1.18)(1.82,-0.62)(1.86,-0.87)(1.72,-1.14)(1.74,-1.29)(1.79,-0.97)(1.70,-0.87)(1.64,-0.99)(1.69,-0.80)(1.60,-1.33)(1.55,-1.32)(1.57,-1.49)(1.53,-0.97)(1.57,-0.83)(1.49,-0.98)(1.46,-0.97)(1.45,-1.24)(1.48,-1.59)(1.44,-0.87)(1.49,-0.67)(1.44,-0.67)(1.37,-1.02)(1.37,-1.44)(1.27,-0.98)(1.26,-1.17)(1.21,-1.28)(1.26,-1.73)(1.34,-2.07)(1.44,-2.51)(1.48,-2.38)(1.85,-2.75)(1.92,-2.75)(1.84,-1.57)(1.87,-1.42)(1.92,-1.72)(2.23,-1.40)(2.18,-1.70)(2.27,-1.67)(2.25,-1.88)(2.35,-2.00)(2.27,-2.55)(2.39,-1.46)(2.56,-1.97)(2.68,-2.25)(2.72,-1.35)(2.77,-1.66)(3.33,-2.37)(1.06,-0.80)(1.11,-0.50)(1.16,-0.23)};
\addplot[band=cCtl] coordinates {(0.85,0.49)(1.07,0.374)(1.33,0.52)(1.33,0.12)(1.07,0.234)(0.85,0.09)} -- cycle;
\addplot[band=cPre] coordinates {(0.88,0.763)(1.15,0.398)(1.4,0.433)(1.7,0.575)(2.03,0.75)(2.03,-1.19)(1.7,-0.637)(1.4,-0.149)(1.15,0.172)(0.88,0.117)} -- cycle;
\addplot[band=cPro] coordinates {(0.70,0.555)(1.0,0.246)(1.25,0.042)(1.6,-0.070)(2.0,-0.118)(2.42,-0.16)(2.42,-1.38)(2.0,-0.924)(1.6,-0.498)(1.25,-0.194)(1.0,-0.102)(0.70,-0.055)} -- cycle;
\addplot[band=cAD] coordinates {(1.09,0.105)(1.4,-0.218)(1.65,-0.443)(2.0,-0.669)(2.5,-0.934)(3.33,-1.33)(3.33,-2.43)(2.5,-1.514)(2.0,-0.989)(1.65,-0.663)(1.4,-0.493)(1.09,-0.325)} -- cycle;
\addplot[fit=cCtl] coordinates {(0.85,0.29)(1.33,0.32)};
\addplot[fit=cPre] coordinates {(0.88,0.44)(2.03,-0.22)};
\addplot[fit=cPro] coordinates {(0.70,0.25)(2.42,-0.77)};
\addplot[fit=cAD] coordinates {(1.09,-0.11)(3.33,-1.88)};
\bet{0.947}{0.92}{1.12}
\end{axis}
\end{tikzpicture}
\end{document}
